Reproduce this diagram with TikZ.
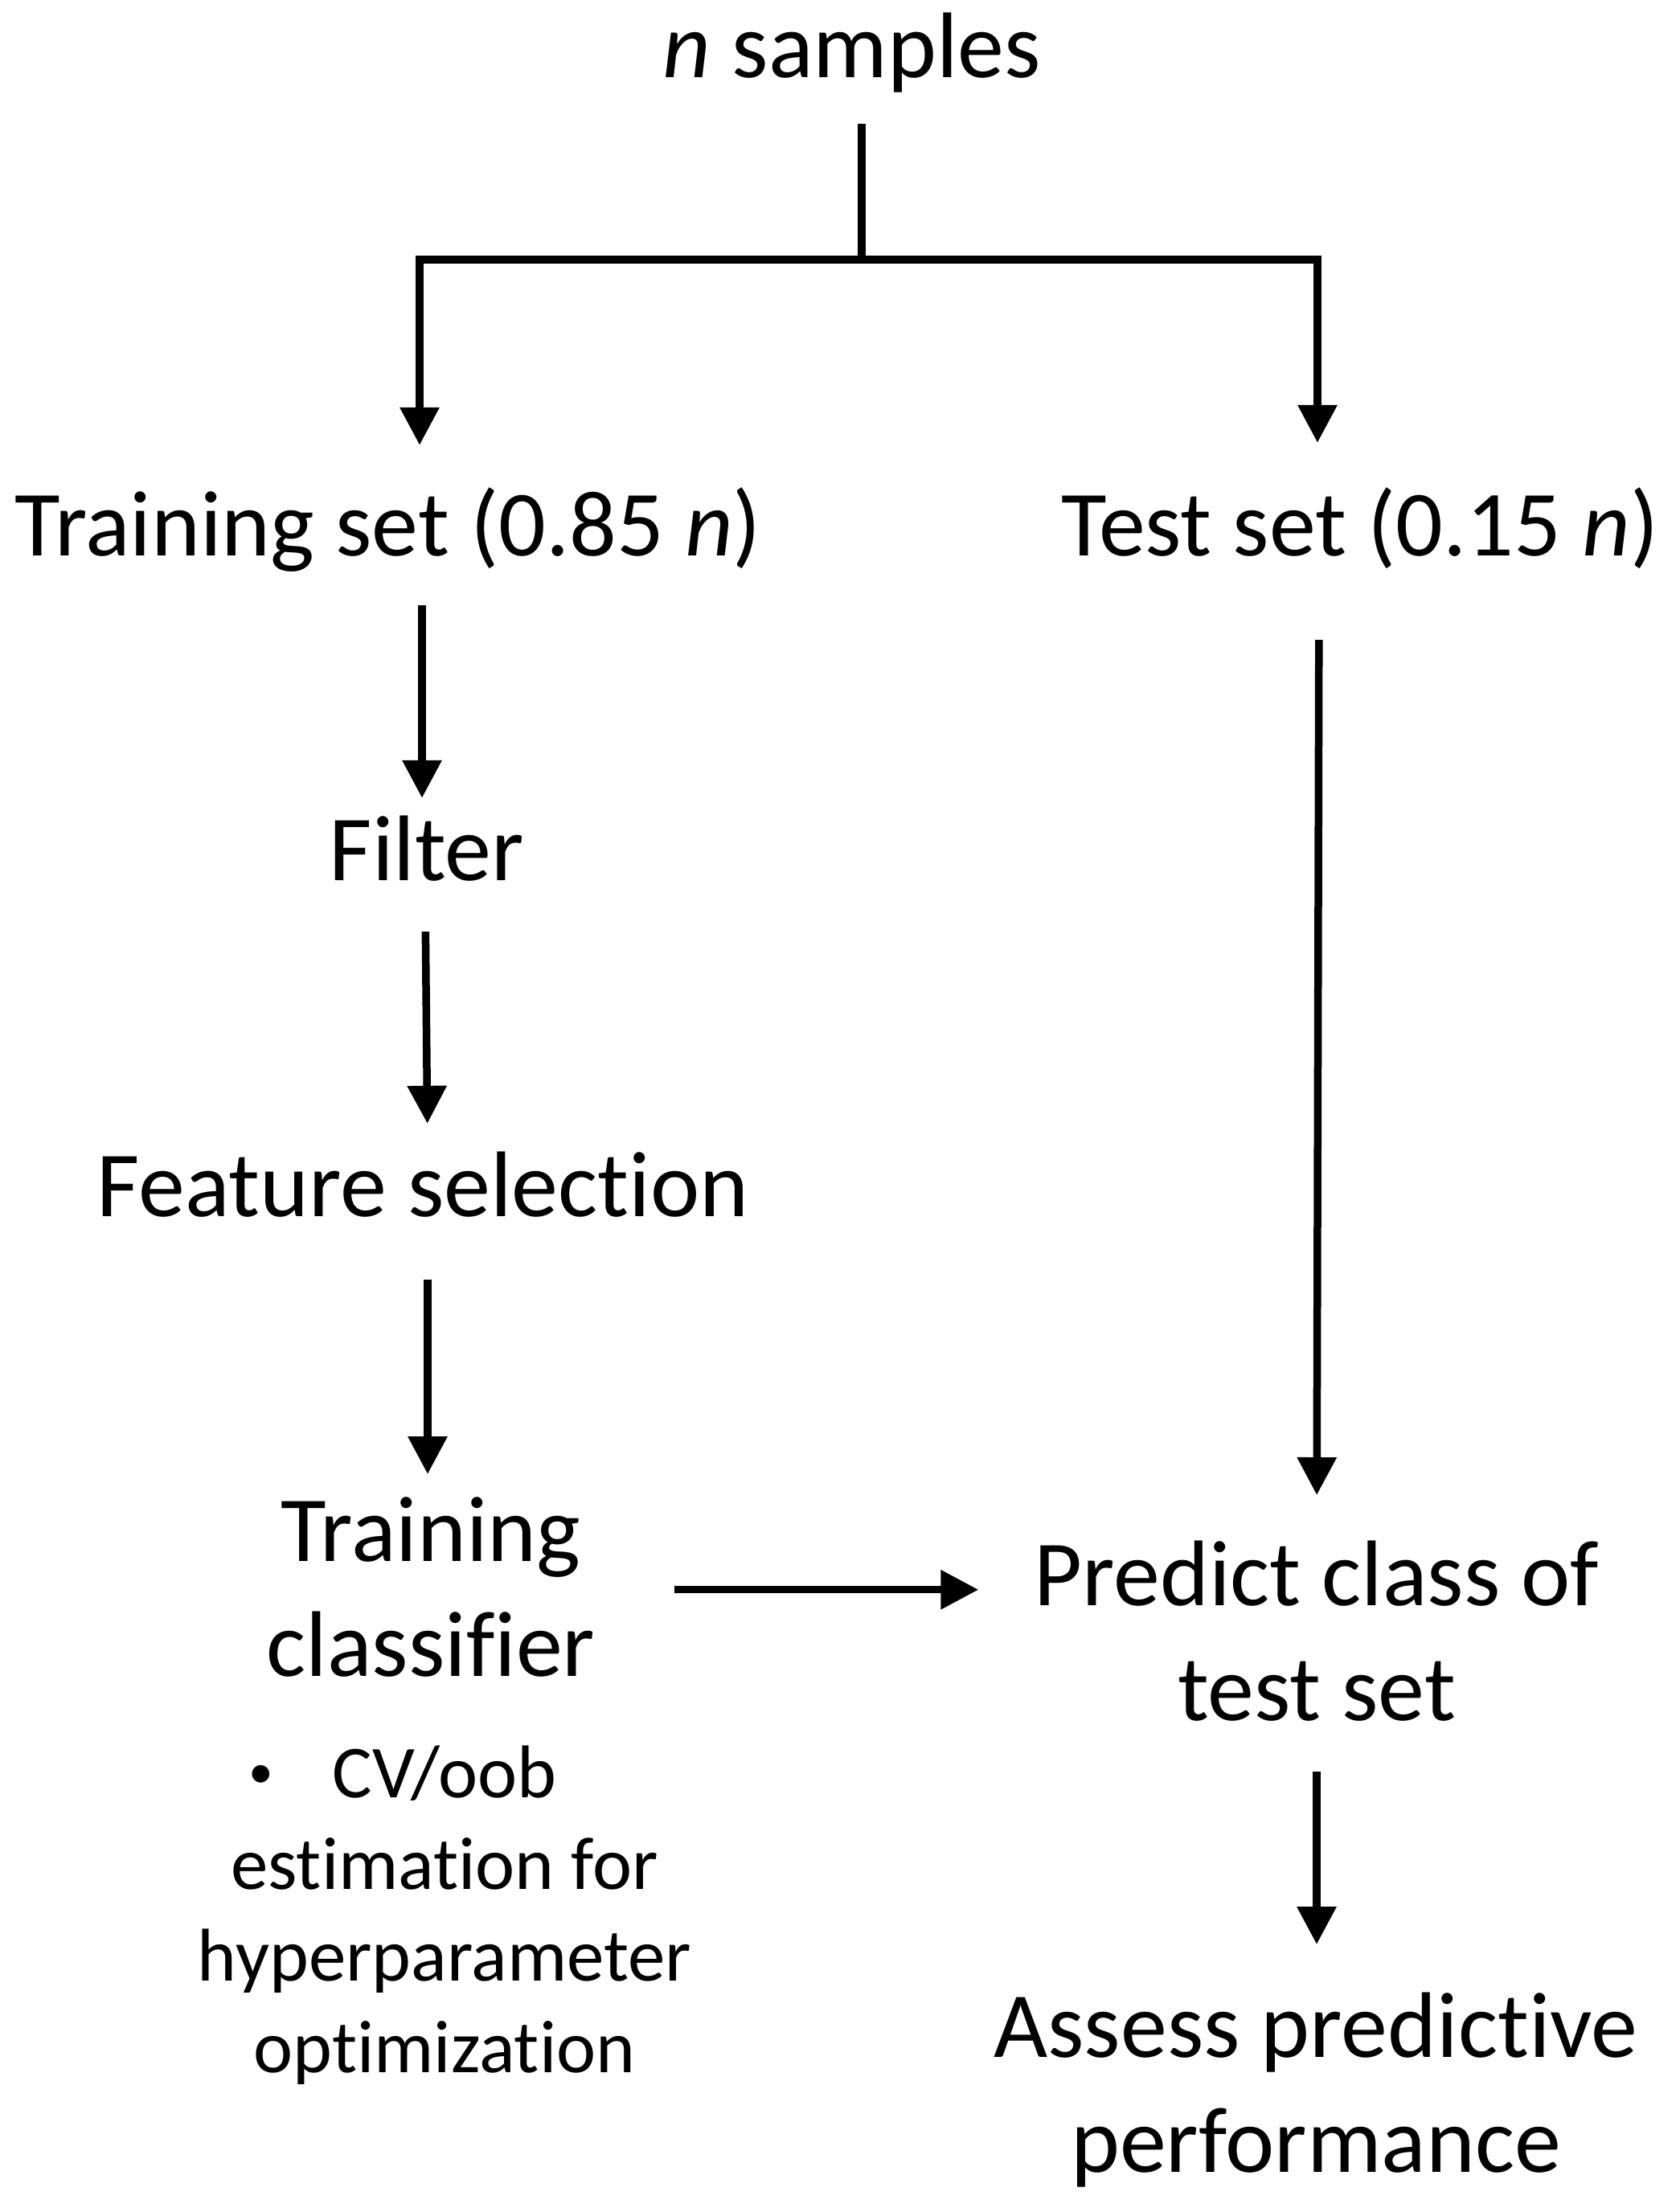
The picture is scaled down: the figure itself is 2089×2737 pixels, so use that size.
\documentclass[tikz,border=0pt]{standalone}
\usepackage{fontspec}
\setmainfont{Carlito}[Ligatures={NoCommon,NoRequired,NoContextual}]
\usetikzlibrary{arrows.meta}
\newcommand{\mstrut}{\rule[-28pt]{0pt}{108pt}}
\newcommand{\sstrut}{\rule{0pt}{70pt}}
\newcommand{\smallbullet}{\raisebox{12pt}{\scalebox{0.66}{\textbullet}}}
\tikzset{
  lbl/.style={inner sep=0pt, font=\fontsize{116}{143}\selectfont, text height=80pt, text depth=28pt},
  mlbl/.style={inner sep=0pt, font=\fontsize{116}{143}\selectfont, align=center},
  slbl/.style={inner sep=0pt, font=\fontsize{93}{114}\selectfont, align=center},
  conn/.style={line width=9.5pt},
  arr/.style={conn, -{Triangle[length=47pt,width=47pt]}},
}
\begin{document}
\begin{tikzpicture}[x=1pt,y=1pt]
\useasboundingbox (0,0) rectangle (2089,-2737);
\node[lbl, anchor=base] (samples) at (1060,-97) {\textit{n} samples};
\node[lbl, anchor=base] (train) at (483,-691) {Training set (0.85 \textit{n})};
\node[lbl, anchor=base] (test) at (1692,-691) {Test set (0.15 \textit{n})};
\node[lbl, anchor=base] (filter) at (531,-1095) {Filter};
\node[lbl, anchor=base] (feat) at (526,-1513) {Feature selection};
\node[mlbl, anchor=north] (trcl) at (536,-1862) {\mstrut Training\\classif\kern0pt ier\mstrut};
\node[slbl, anchor=north] (cv) at (553,-2166) {\sstrut\llap{\smallbullet\hspace{74pt}}CV/oob\\estimation for\\hyperparameter\\optimization};
\node[mlbl, anchor=north] (pred) at (1638,-1917) {\mstrut Predict class of\\test set\mstrut};
\node[mlbl, anchor=north] (assess) at (1637,-2479) {\mstrut Assess predictive\\performance\mstrut};
\coordinate (split) at (1072,-323);
\draw[conn, shorten <=29pt] ([xshift=12pt]samples.south) -- (split);
\draw[arr, shorten >=57pt] (split) -| ([xshift=39pt]train.north);
\draw[arr, shorten >=60pt] (split) -| ([xshift=-53pt]test.north);
\draw[arr, shorten <=34pt, shorten >=22pt] ([xshift=42pt]train.south) -- ([xshift=-6pt]filter.north);
\draw[arr, shorten <=36pt, shorten >=35pt] ([xshift=-2pt]filter.south) -- ([xshift=6pt]feat.north);
\draw[arr, shorten <=51pt, shorten >=28pt] ([xshift=6pt]feat.south) -- ([xshift=-4pt]trcl.north);
\draw[arr, shorten <=77pt, shorten >=57pt] ([xshift=-51pt]test.south) -- (pred.north);
\draw[arr, shorten <=98pt, shorten >=69pt] ([yshift=10pt]trcl.east) -- ([yshift=10pt]trcl.east -| pred.west);
\draw[arr, shorten <=35pt, shorten >=60pt] (pred.south) -- ([xshift=1pt]assess.north);
\end{tikzpicture}
\end{document}
